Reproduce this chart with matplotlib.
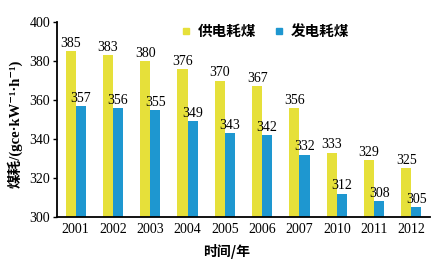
import numpy as np
import matplotlib.pyplot as plt
from matplotlib.lines import Line2D

years = ['2001', '2002', '2003', '2004', '2005', '2006', '2007', '2010', '2011', '2012']
gongdian = [385, 383, 380, 376, 370, 367, 356, 333, 329, 325]
fadian = [357, 356, 355, 349, 343, 342, 332, 312, 308, 305]

yellow = '#E6E03A'
blue = '#1E97D0'
num_font = 'Liberation Serif'
cjk = ['Noto Sans CJK SC', 'DejaVu Sans']
mixed = ['Liberation Serif', 'Noto Sans CJK SC', 'DejaVu Serif']

fig = plt.figure(figsize=(4.39, 2.64), dpi=100)
ax = fig.add_axes([57 / 439, 1 - 217 / 264, 373 / 439, 195 / 264])

x = np.arange(len(years))
w = 0.27
ax.bar(x - w / 2, [v - 300 for v in gongdian], w, bottom=300, color=yellow, zorder=2)
ax.bar(x + w / 2, [v - 300 for v in fadian], w, bottom=300, color=blue, zorder=2)

# valores em cima das barras
for i in x:
    ax.text(i - w / 2, gongdian[i] + 0.6, str(gongdian[i]), ha='center', va='bottom',
            fontsize=10, family=num_font, zorder=3)
    ax.text(i + w / 2, fadian[i] + 0.6, str(fadian[i]), ha='center', va='bottom',
            fontsize=10, family=num_font, zorder=3)

ax.set_xlim(-0.5, len(years) - 0.5)
ax.set_ylim(300, 400)
ax.set_yticks(range(300, 401, 20))
ax.set_xticks(x)
ax.set_xticklabels(years, family=num_font, fontsize=10)
for t in ax.get_yticklabels():
    t.set_family(num_font)
    t.set_fontsize(10)
ax.tick_params(axis='x', length=0, pad=4)
ax.tick_params(axis='y', length=3, width=1, pad=2)
for s in ['top', 'right']:
    ax.spines[s].set_visible(False)
for s in ['left', 'bottom']:
    ax.spines[s].set_linewidth(1.3)

ax.set_ylabel('煤耗/(gce·kW⁻¹·h⁻¹)', family=mixed, fontsize=10.5, fontweight='bold')
ax.yaxis.set_label_coords(-34 / 373, 0.48)
ax.set_xlabel('时间/年', family=cjk, fontsize=10, fontweight='bold')
ax.xaxis.set_label_coords((227 - 57) / 373, -27 / 195)

handles = [Line2D([], [], marker='s', ls='', color=yellow, markersize=5),
           Line2D([], [], marker='s', ls='', color=blue, markersize=5)]
fig.legend(handles, ['供电耗煤', '发电耗煤'], loc='center left', bbox_to_anchor=(166 / 439, 1 - 31 / 264),
           ncol=2, frameon=False, handletextpad=0.3, columnspacing=1.05, handlelength=1,
           prop={'family': cjk, 'size': 10.5, 'weight': 'bold'})

fig.savefig('out.png', dpi=100)
